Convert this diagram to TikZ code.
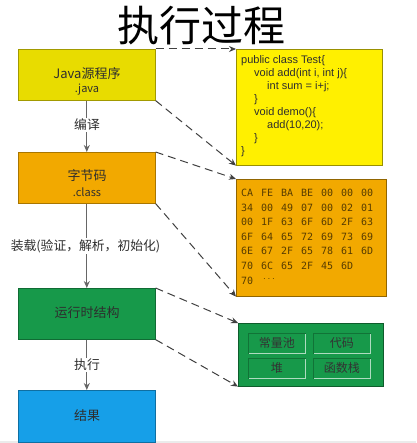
\documentclass[tikz,border=0pt]{standalone}
\usepackage{fontspec}
\setmainfont{Noto Sans CJK SC}
\newfontfamily\cjk{Noto Sans CJK SC}
\newfontfamily\codefont{Liberation Sans}
\newfontfamily\hexfont{DejaVu Sans Mono}
\usetikzlibrary{arrows.meta}
\definecolor{jyel}{HTML}{E8DC00}
\definecolor{cyel}{HTML}{FFF000}
\definecolor{borg}{HTML}{F2A900}
\definecolor{rgrn}{HTML}{17994A}
\definecolor{rblu}{HTML}{169FE8}
\definecolor{txt}{HTML}{2E2E2E}
\definecolor{hext}{HTML}{573C00}
\definecolor{arr}{HTML}{404040}
\tikzset{
  lbox/.style={draw=#1!70!black, line width=0.6pt, fill=#1, minimum width=137pt, minimum height=51pt, inner sep=0pt, anchor=north west, text=txt, align=center},
  bigt/.style={inner sep=0pt, text=txt, font=\cjk\fontsize{13}{15}\selectfont},
  smallt/.style={inner sep=0pt, text=txt, font=\cjk\fontsize{11}{13}\selectfont},
  flowarrow/.style={draw=arr!80, line width=1pt, -{Stealth[length=7pt,width=6pt]}},
  dasharrow/.style={draw=arr, line width=1pt, dash pattern=on 8pt off 5pt, -{Stealth[length=7pt,width=6pt]}},
  flowlabel/.style={fill=white, inner sep=1.5pt, text=txt, font=\cjk\fontsize{12.8}{14}\selectfont},
  inbox/.style={draw=rgrn!75!black, line width=0.6pt, fill=rgrn, minimum width=57pt, minimum height=20pt, inner sep=0pt, anchor=north west, text=black!80, font=\cjk\fontsize{12}{14}\selectfont},
  bevel/.style={draw=white!65!rgrn, line width=1pt},
  codeline/.style={anchor=west, inner sep=0pt, text=txt, font=\codefont\fontsize{11}{13}\selectfont},
  hexline/.style={anchor=west, inner sep=0pt, text=hext, font=\hexfont\fontsize{10}{12}\selectfont},
}
\begin{document}
\begin{tikzpicture}[x=1pt,y=-1pt]
\useasboundingbox (0,0) rectangle (416,443);
\fill[black!8] (0,441) rectangle (416,443);
% title
\node[font=\cjk\fontsize{42}{46}\selectfont, text=black, inner sep=0pt] (title) at (201,26) {执行过程};
% left boxes
\node[lbox=jyel] (java) at (18,49) {};
\node[bigt] (javat1) at (87,74) {Java源程序};
\node[smallt] (javat2) at (87,90) {.java};
\node[lbox=borg] (cls) at (18,152) {};
\node[bigt] (clst1) at (87,176) {字节码};
\node[smallt] (clst2) at (87,192) {.class};
\node[lbox=rgrn] (rt) at (18,288) {};
\node[bigt] (rtt) at (87,313) {运行时结构};
\node[lbox=rblu, minimum height=52pt] (res) at (18,390) {};
\node[bigt] (rest) at (87,416) {结果};
% flow arrows
\draw[flowarrow] (java.south) -- (cls.north);
\node[flowlabel] (l1) at (87,125) {编译};
\draw[flowarrow] (cls.south) -- (rt.north);
\node[flowlabel] (l2) at (85.5,246) {装载(验证，解析，初始化)};
\draw[flowarrow] (rt.south) -- (res.north);
\node[flowlabel] (l3) at (87,365) {执行};
% code box
\node[draw=cyel!60!black, line width=0.6pt, fill=cyel, minimum width=146pt, minimum height=116pt, anchor=north west, inner sep=0pt] (code) at (236,49) {};
\node[codeline] (c1) at (241,61) {public class Test\{};
\node[codeline] (c2) at (254,74) {void add(int i, int j)\{};
\node[codeline] (c3) at (267,87) {int sum = i+j;};
\node[codeline] (c4) at (254,100) {\}};
\node[codeline] (c5) at (254,113) {void demo()\{};
\node[codeline] (c6) at (267,126) {add(10,20);};
\node[codeline] (c7) at (254,139) {\}};
\node[codeline] (c8) at (241,152) {\}};
% hex box
\node[draw=borg!60!black, line width=0.6pt, fill=borg, minimum width=150pt, minimum height=117pt, anchor=north west, inner sep=0pt] (hex) at (236,179) {};
\foreach \row/\yy/\toks in {1/193/{CA,FE,BA,BE,00,00,00},2/208/{34,00,49,07,00,02,01},3/222/{00,1F,63,6F,6D,2F,63},4/237/{6F,64,65,72,69,73,69},5/251/{6E,67,2F,65,78,61,6D},6/266/{70,6C,65,2F,45,6D}}{
  \foreach \t [count=\i] in \toks {
    \node[hexline] (h\row-\i) at ({241+20*(\i-1)},\yy) {\t};
  }
}
\node[hexline] (h7-1) at (241,281) {70};
\node[hexline] (h7-2) at (263,279) {\textbf{$\cdots$}};
% runtime box
\node[draw=rgrn!60!black, line width=0.6pt, fill=rgrn, minimum width=145pt, minimum height=63pt, anchor=north west, inner sep=0pt] (rbox) at (238,323) {};
\node[inbox] (pool) at (248,333) {常量池};
\node[inbox] (cd) at (313,333) {代码};
\node[inbox] (heap) at (248,358) {堆};
\node[inbox] (stk) at (313,358) {函数栈};
\foreach \b in {pool,cd,heap,stk}{
  \draw[bevel] ([xshift=1pt]\b.south west) -- (\b.south east) -- ([yshift=-1pt]\b.north east);
}
% dashed arrows
\draw[dasharrow] (java.north east) -- (code.north west);
\draw[dasharrow] (java.south east) -- (code.south west);
\draw[dasharrow] (cls.north east) -- (hex.north west);
\draw[dasharrow] (cls.south east) -- (hex.south west);
\draw[dasharrow] (rt.north east) -- (rbox.north west);
\draw[dasharrow] (rt.south east) -- (rbox.south west);
\end{tikzpicture}
\end{document}
